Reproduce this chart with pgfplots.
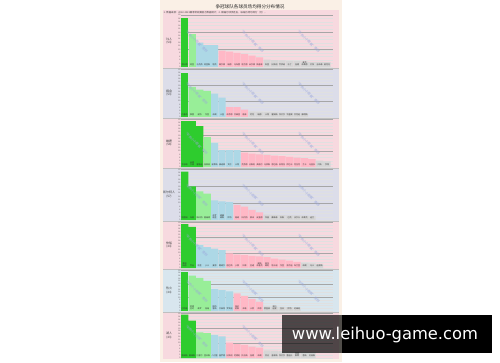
\documentclass[border=0pt]{standalone}
\usepackage{pgfplots}
\pgfplotsset{compat=1.18}
\usepackage{graphicx}
\usepackage{fontspec}
\setmainfont{Noto Sans CJK SC}
\newfontfamily\wmfont{DejaVu Sans}

\definecolor{cream}{HTML}{FAF0E6}
\definecolor{pinkbg}{HTML}{F7D9DF}
\definecolor{bluebg}{HTML}{DCDDE9}
\definecolor{cyanbg}{HTML}{D8E6EE}
\definecolor{dg}{HTML}{2ECC2E}
\definecolor{lg}{HTML}{98EE98}
\definecolor{lb}{HTML}{ADD8E6}
\definecolor{pk}{HTML}{FFB8C6}
\definecolor{gy}{HTML}{D6D6D6}
\definecolor{wmc}{HTML}{9AA6DC}

\pgfplotsset{
  panel/.style={
    scale only axis, width=152pt, height=#1,
    anchor=south west,
    xmin=-0.5, xmax=19.8, ymin=0, ymax=30,
    bar width=7.1pt,
    axis line style={draw=none}, tick style={draw=none},
    ytick={0,2,...,30}, xtick=\empty,
    ymajorgrids, major grid style={black!12, line width=0.25pt},
    extra y ticks={10,20,30}, extra y tick labels={},
    extra y tick style={major grid style={black!35, line width=0.35pt}},
    yticklabel style={font=\fontsize{1.9}{2}\selectfont, inner sep=0.4pt, text=black!70},
    /pgf/number format/assume math mode=true,
    clip=false,
  },
  bars/.style={ybar, bar shift=0pt, draw=none, fill=#1},
  names/.style={sharp plot, draw=none, mark=none, point meta=explicit symbolic,
    nodes near coords={\pgfplotspointmeta},
    every node near coord/.style={anchor=south, font=\fontsize{2}{2.2}\selectfont, align=center, inner sep=0.2pt, yshift=0.5pt, text=black!80}},
}

\begin{document}
\begin{tikzpicture}[x=1pt,y=1pt]
\fill[white] (0,0) rectangle (500,362);
\fill[cream] (160,0) rectangle (342,362);

% panel backgrounds
\fill[pinkbg] (163,294) rectangle (339,352);
\fill[bluebg] (163,244) rectangle (339,294);
\fill[pinkbg] (163,194) rectangle (339,244);
\fill[bluebg] (163,141) rectangle (339,194);
\fill[pinkbg] (163,93) rectangle (339,141);
\fill[cyanbg] (163,50) rectangle (339,93);
\fill[pinkbg] (163,3) rectangle (339,50);
\foreach \yy in {294,244,194,141,93,50}{\draw[black!25, line width=0.3pt] (163,\yy) -- (339,\yy);}

\node[font=\fontsize{4.6}{5}\selectfont, text=black!85] at (250,355) {争冠球队各球员场均得分分布情况};
\node[font=\fontsize{2.4}{2.6}\selectfont, text=black!75, anchor=west, inner sep=0pt] at (163.5,349.6) {1. 数据来源：2022-2023赛季常规赛官方数据统计；2. 横轴为球员姓名，纵轴为场均得分（分）。};

% team labels
\foreach \yc/\tn/\tw in {321/76人/(54), 269/掘金/(53), 219/雄鹿/(58), 167.5/凯尔特人/(57), 117/快船/(44), 71.5/热火/(44), 26.5/湖人/(43)}{
  \node[align=center, font=\fontsize{3}{3.4}\selectfont, text=black!75] at (169,\yc) {\tn\\\tw};
}

% Panel 1
\begin{axis}[panel=52pt, at={(181pt,295pt)}]
\addplot[bars=dg] coordinates {(0,28.1)};
\addplot[bars=lg] coordinates {(1,19.3)};
\addplot[bars=lb] coordinates {(2,14.1) (3,12.6) (4,12.6)};
\addplot[bars=pk] coordinates {(5,9.4) (6,8.8) (7,8.1) (8,7.5) (9,6.6) (10,5.6)};
\addplot[bars=gy] coordinates {(11,4.2) (12,4.0) (13,3.8) (14,3.6) (15,3.4) (16,3.2) (17,3.0) (18,2.9) (19,2.8)};
\addplot[names] coordinates {(0,0)[恩比德] (1,0)[哈登] (2,0)[马克西] (3,0)[哈里斯] (4,0)[塔克] (5,0)[梅尔顿] (6,0)[瑞德] (7,0)[乌布雷] (8,0)[哈兰德] (9,0)[米尔顿] (10,0)[斯普林] (11,0)[科里] (12,0)[比斯利] (13,0)[乔伊纳] (14,0)[马丁] (15,0)[伍德] (16,0)[麦克\\布莱德] (17,0)[贝茨] (18,0)[吉布森] (19,0)[麦克丹]};
\end{axis}

% Panel 2
\begin{axis}[panel=47.5pt, at={(181pt,245pt)}]
\addplot[bars=dg] coordinates {(0,28.1)};
\addplot[bars=lg] coordinates {(1,19.0) (2,17.3) (3,16.5)};
\addplot[bars=lb] coordinates {(4,14.8) (5,12.3)};
\addplot[bars=pk] coordinates {(6,6.3) (7,6.3) (8,4.6)};
\addplot[bars=gy] coordinates {(9,3.4) (10,3.2) (11,3.0) (12,2.9) (13,2.8) (14,2.7) (15,2.6) (16,2.5)};
\addplot[names] coordinates {(0,0)[约基奇] (1,0)[穆雷] (2,0)[波特] (3,0)[戈登] (4,0)[布朗] (5,0)[卡皇] (6,0)[布劳恩] (7,0)[杰弗里] (8,0)[格林] (9,0)[尼克] (10,0)[瑞德] (11,0)[卡特] (12,0)[霍姆斯] (13,0)[坎贝尔] (14,0)[华盛顿] (15,0)[杰克逊] (16,0)[康明斯]};
\end{axis}

% Panel 3
\begin{axis}[panel=47.5pt, at={(181pt,195pt)}]
\addplot[bars=dg] coordinates {(0,28.9) (1,28.9) (2,25.8)};
\addplot[bars=lg] coordinates {(3,19.1)};
\addplot[bars=lb] coordinates {(4,15.3) (5,10.7) (6,10.7) (7,10.7)};
\addplot[bars=pk] coordinates {(8,9.0) (9,8.4) (10,8.0) (11,7.6) (12,7.2) (13,6.8) (14,6.4) (15,6.0) (16,5.6) (17,5.0)};
\addplot[bars=gy] coordinates {(18,4.0) (19,3.6)};
\addplot[names] coordinates {(0,0)[字母哥] (1,0)[米德\\尔顿] (2,0)[霍勒迪] (3,0)[洛佩兹] (4,0)[波蒂斯] (5,0)[康诺顿] (6,0)[艾伦] (7,0)[卡特] (8,0)[克劳德] (9,0)[比斯利] (10,0)[英格尔] (11,0)[马修斯] (12,0)[恩巴赫] (13,0)[安特托] (14,0)[伊巴卡] (15,0)[克拉克] (16,0)[兰卡] (17,0)[马查多] (18,0)[贝斯] (19,0)[亨特]};
\end{axis}

% Panel 4
\begin{axis}[panel=50.5pt, at={(181pt,142pt)}]
\addplot[bars=dg] coordinates {(0,28.8) (1,20.0)};
\addplot[bars=lg] coordinates {(2,17.0) (3,15.6)};
\addplot[bars=lb] coordinates {(4,11.6) (5,11.0) (6,10.6)};
\addplot[bars=pk] coordinates {(7,9.0) (8,8.0) (9,6.0) (10,4.6)};
\addplot[bars=gy] coordinates {(11,3.2) (12,3.0) (13,2.9) (14,2.8) (15,2.7) (16,2.6) (17,2.5)};
\addplot[names] coordinates {(0,0)[塔图姆] (1,0)[布朗] (2,0)[斯玛特] (3,0)[霍福德] (4,0)[布罗\\格登] (5,0)[威廉\\姆斯] (6,0)[怀特] (7,0)[格威] (8,0)[科内特] (9,0)[豪泽] (10,0)[皮查德] (11,0)[坎普] (12,0)[戴维森] (13,0)[科斯] (14,0)[巴克] (15,0)[沃尔什] (16,0)[布莱克] (17,0)[迪兰]};
\end{axis}

% Panel 5
\begin{axis}[panel=45.5pt, at={(181pt,94pt)}]
\addplot[bars=dg] coordinates {(0,28.9) (1,27.1)};
\addplot[bars=lb] coordinates {(2,15.1) (3,13.8) (4,12.7) (5,11.8)};
\addplot[bars=pk] coordinates {(6,9.6) (7,8.9) (8,8.5) (9,8.0) (10,7.6) (11,7.1) (12,6.2) (13,5.6) (14,4.9) (15,4.0)};
\addplot[bars=gy] coordinates {(16,3.3) (17,3.0) (18,2.8)};
\addplot[names] coordinates {(0,0)[莱昂\\纳德] (1,0)[乔治] (2,0)[哈登] (3,0)[小卡] (4,0)[曼恩] (5,0)[鲍威尔] (6,0)[祖巴茨] (7,0)[小莫] (8,0)[科菲] (9,0)[巴通] (10,0)[威斯\\布鲁克] (11,0)[普拉\\姆利] (12,0)[塔卡诺] (13,0)[戈登] (14,0)[肯尼迪] (15,0)[布兰登] (16,0)[布朗] (17,0)[马卡] (18,0)[迪亚斯]};
\end{axis}

% Panel 6
\begin{axis}[panel=40.5pt, at={(181pt,51pt)}]
\addplot[bars=dg] coordinates {(0,28.7)};
\addplot[bars=lg] coordinates {(1,26.2) (2,24.6) (3,22.3)};
\addplot[bars=lb] coordinates {(4,16.2) (5,15.4) (6,14.6)};
\addplot[bars=pk] coordinates {(7,13.1) (8,11.0) (9,9.0) (10,7.0)};
\addplot[bars=gy] coordinates {(11,3.5) (12,3.3) (13,3.0) (14,2.8) (15,2.6)};
\addplot[names] coordinates {(0,0)[巴特勒] (1,0)[阿德\\巴约] (2,0)[希罗] (3,0)[洛瑞] (4,0)[斯特\\鲁斯] (5,0)[文森特] (6,0)[罗宾逊] (7,0)[海史\\密斯] (8,0)[泽勒] (9,0)[卡贾] (10,0)[凯恩] (11,0)[贾奎兹] (12,0)[奥拉\\迪波] (13,0)[拉夫] (14,0)[怀特] (15,0)[约维奇]};
\end{axis}

% Panel 7
\begin{axis}[panel=44.5pt, at={(181pt,4pt)}]
\addplot[bars=dg] coordinates {(0,29.3) (1,25.2)};
\addplot[bars=lg] coordinates {(2,17.2) (3,16.8)};
\addplot[bars=lb] coordinates {(4,15.5) (5,14.5)};
\addplot[bars=pk] coordinates {(6,10.4) (7,9.3) (8,8.8) (9,7.7) (10,7.0)};
\addplot[bars=gy] coordinates {(11,5.2) (12,5.0) (13,4.8) (14,4.5) (15,4.3) (16,4.1) (17,4.0)};
\addplot[names] coordinates {(0,0)[詹姆斯] (1,0)[戴维斯] (2,0)[拉塞尔] (3,0)[里夫斯] (4,0)[八村塁] (5,0)[施罗德] (6,0)[比斯利] (7,0)[范德彪] (8,0)[托马斯] (9,0)[伍德] (10,0)[布朗] (11,0)[甘比] (12,0)[普林斯] (13,0)[坎贝尔] (14,0)[雷迪什] (15,0)[克里\\斯蒂] (16,0)[香斯] (17,0)[刘易斯]};
\end{axis}

% faint diagonal watermarks
\foreach \yc in {321,269,219,167.5,117,71.5}{
  \foreach \xc in {196,252,308}{
    \node[rotate=-45, text=wmc, font=\fontsize{3.2}{3.4}\selectfont] at (\xc,\yc) {“华农小小观察”原创};
  }
}
\foreach \xc in {196,252}{
  \node[rotate=-45, text=wmc, font=\fontsize{3.2}{3.4}\selectfont] at (\xc,26.5) {“华农小小观察”原创};
}

% site watermark
\fill[black, opacity=0.68] (282,9.3) rectangle (342,47);
\fill[black] (342,9.3) rectangle (492,47);
\node[text=white, inner sep=0pt] at (385,27) {\resizebox{186pt}{!}{\wmfont www.leihuo-game.com}};
\end{tikzpicture}
\end{document}
